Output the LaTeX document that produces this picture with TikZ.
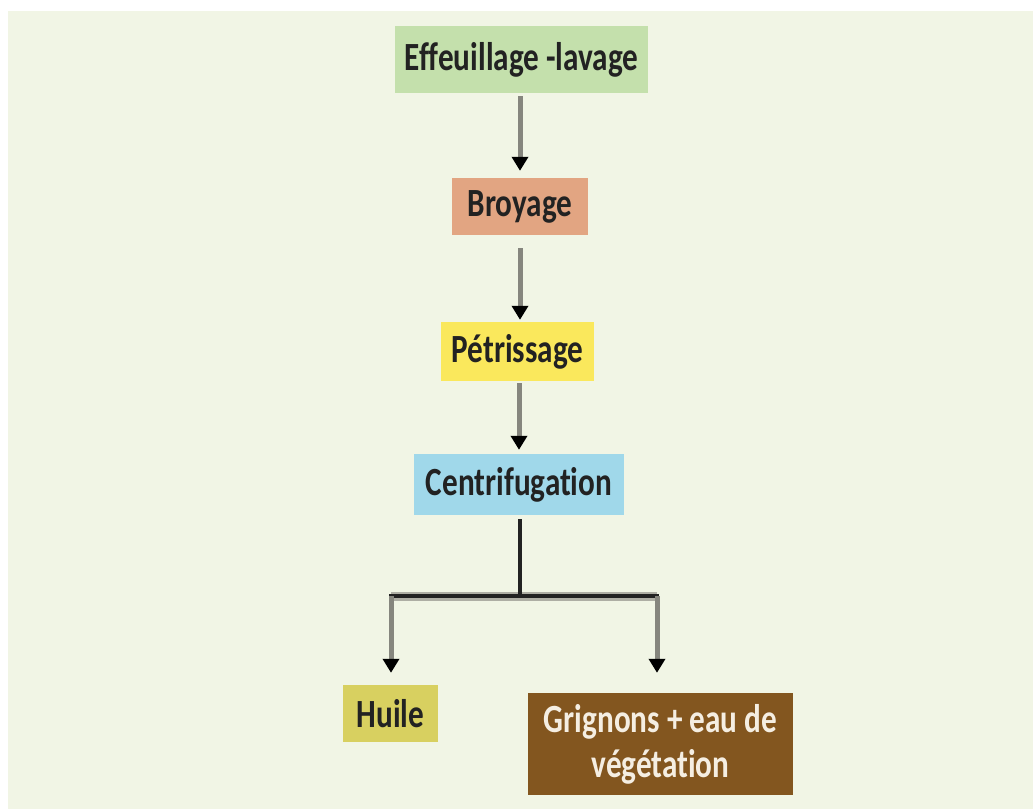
\documentclass[tikz,border=0pt]{standalone}
\usepackage{fontspec}
\setmainfont{Carlito}[FakeStretch=0.78, Ligatures={NoCommon}]
\usetikzlibrary{arrows.meta}
\definecolor{bgcol}{HTML}{F1F5E5}
\definecolor{effcol}{HTML}{C4E0AC}
\definecolor{broycol}{HTML}{E2A582}
\definecolor{petrcol}{HTML}{FAE85C}
\definecolor{centcol}{HTML}{A0D8EA}
\definecolor{huilecol}{HTML}{D8D060}
\definecolor{grigcol}{HTML}{83561F}
\definecolor{txtdark}{HTML}{222222}
\definecolor{txtlight}{HTML}{F5EEE2}
\definecolor{shaftcol}{HTML}{86867E}
\definecolor{buscol}{HTML}{222222}
\definecolor{halocol}{HTML}{AEAEA4}
\tikzset{
  box/.style={rectangle, inner sep=0pt, align=center, text=txtdark,
    font=\bfseries\fontsize{40}{45}\selectfont},
  arr/.style={draw=shaftcol, line width=5pt,
    -{Triangle[width=16pt,length=14pt,color=black]}},
  bus/.style={draw=buscol, line width=4.5pt},
  halo/.style={draw=halocol, line width=9pt},
}
\begin{document}
\begin{tikzpicture}[x=1pt,y=-1pt]
\useasboundingbox (0,0) rectangle (1033,809);
\fill[white] (0,0) rectangle (1033,809);
\fill[bgcol] (8,11) rectangle (1033,809);

\node[box, fill=effcol, minimum width=253pt, minimum height=67pt] (eff) at (521.5,59.5) {Effeuillage -lavage};
\node[box, fill=broycol, minimum width=136pt, minimum height=57pt] (broy) at (520,206.5) {Broyage};
\node[box, fill=petrcol, minimum width=153pt, minimum height=59pt] (petr) at (517.5,351.5) {Pétrissage};
\node[box, fill=centcol, minimum width=210pt, minimum height=61pt] (cent) at (519,484.5) {Centrifugation};
\node[box, fill=huilecol, minimum width=95pt, minimum height=57pt] (huile) at (390.5,713.5) {Huile};
\node[box, fill=grigcol, text=txtlight, minimum width=265pt, minimum height=102pt] (grig) at (660.5,744) {Grignons + eau de\\végétation};

\coordinate (j) at (520,596);
\coordinate (jl) at (391,596);
\coordinate (jr) at (657,596);

\draw[arr, shorten <=3pt, shorten >=7pt] (eff.south -| broy.north) -- (broy.north);
\draw[arr, shorten <=13pt, shorten >=0pt] (broy.south) -- ([yshift=2pt]broy.south |- petr.north);
\draw[arr, shorten <=2pt, shorten >=4pt] (petr.south -| cent.north) -- (cent.north);

\draw[halo] (jl) -- (jr);
\draw[bus, shorten <=4pt] (cent.south -| j) -- (j);
\draw[bus] ([xshift=-2pt]jl) -- ([xshift=2pt]jr);
\draw[arr, shorten >=12pt] (jl) -- (jl |- huile.north);
\draw[arr, shorten >=20pt] (jr) -- (jr |- grig.north);
\end{tikzpicture}
\end{document}
